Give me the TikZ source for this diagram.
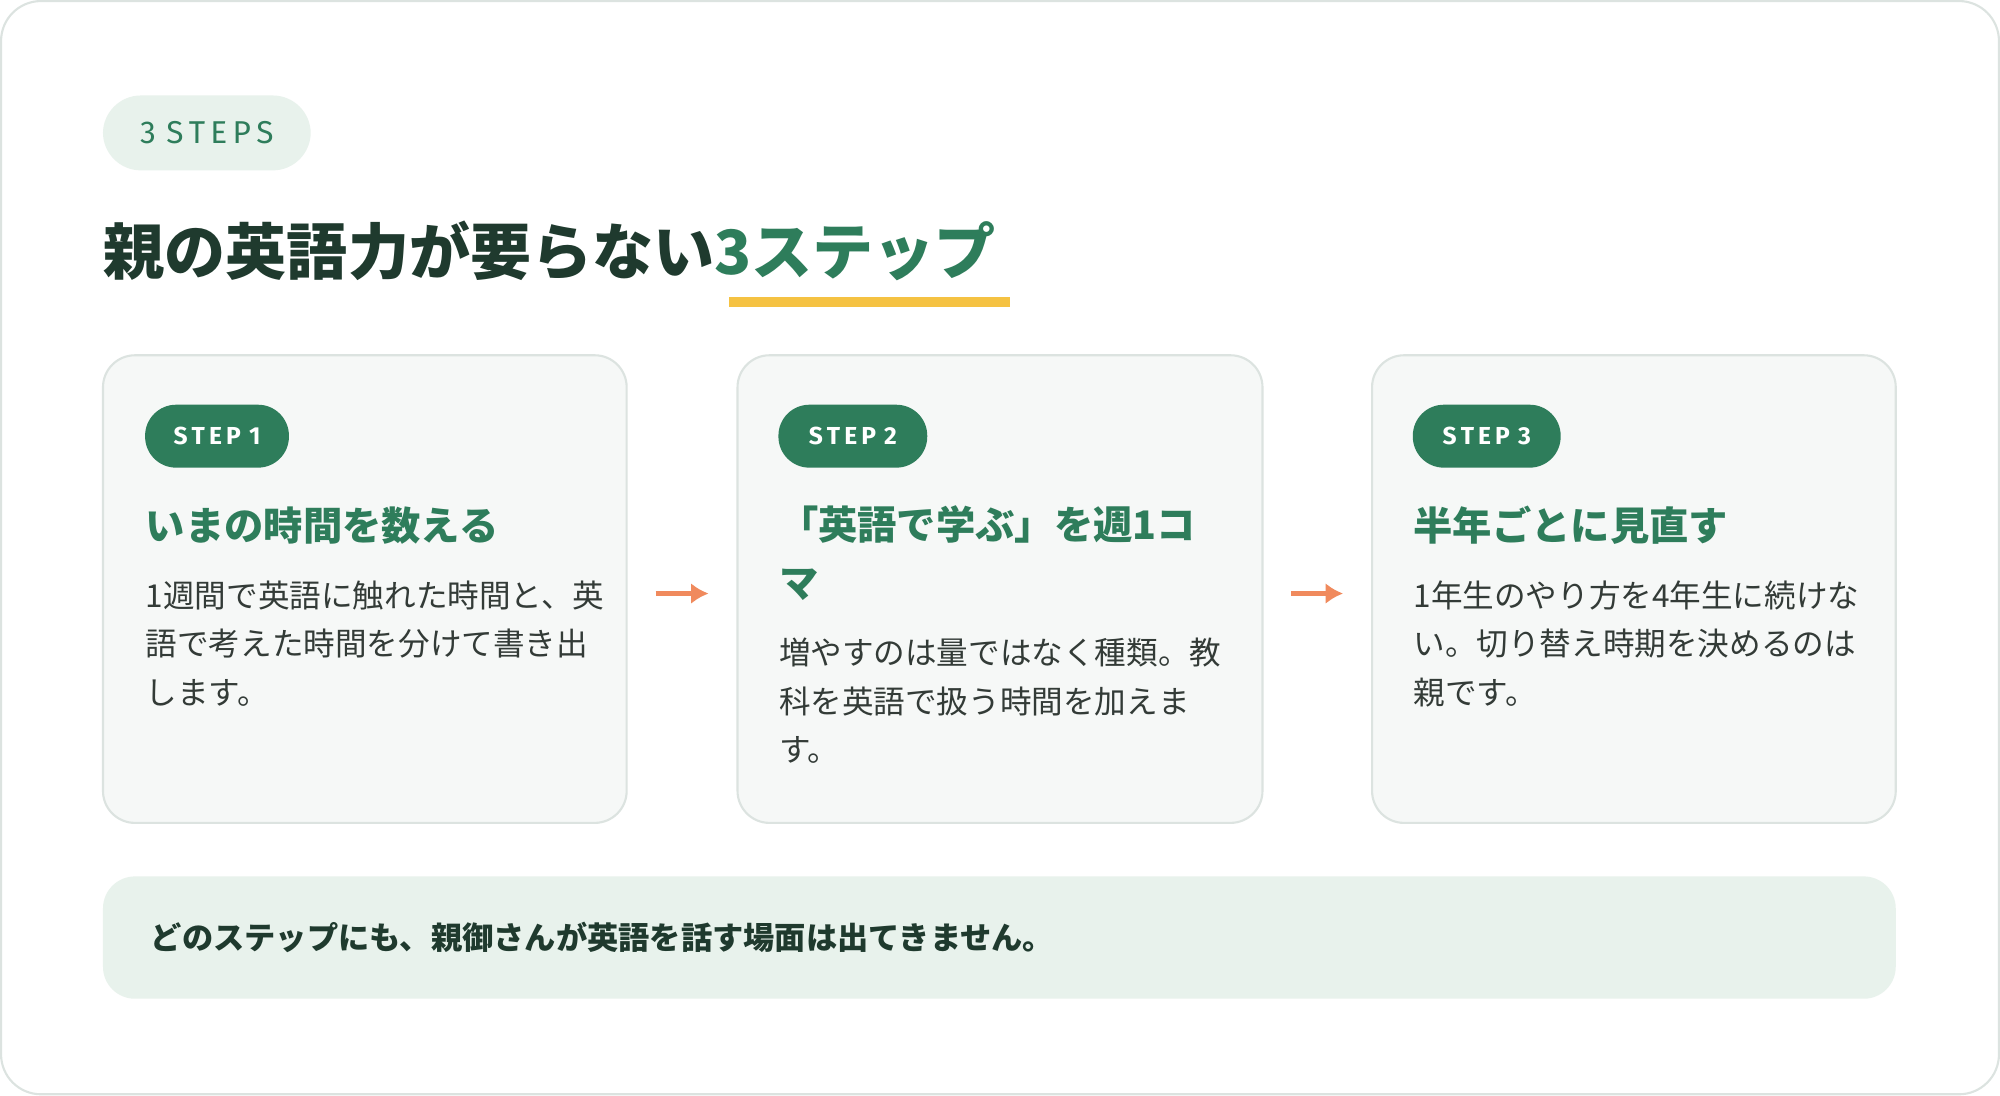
\documentclass[tikz,border=0pt]{standalone}
\usepackage{fontspec}
\setmainfont{Noto Sans CJK JP}
\setsansfont{Fira Sans}
\usetikzlibrary{positioning,calc,arrows.meta}
\definecolor{leaf}{HTML}{2E7D5B}
\definecolor{ink}{HTML}{1F3A2E}
\definecolor{body}{HTML}{333B37}
\definecolor{mint}{HTML}{E8F2EC}
\definecolor{paper}{HTML}{F6F8F7}
\definecolor{rim}{HTML}{DCE3E0}
\definecolor{sun}{HTML}{F5C242}
\definecolor{peach}{HTML}{F08A5D}
\tikzset{>=latex}
\tikzstyle{card}=[draw=rim,fill=paper,rounded corners=0.32cm,line width=0.6pt]
\tikzstyle{badge}=[fill=leaf,text=white,rounded corners=0.31cm,font=\sffamily\bfseries\fontsize{7}{8}\selectfont,inner sep=0pt,minimum height=0.63cm]
\tikzstyle{steptitle}=[anchor=base west,text=leaf,font=\bfseries\fontsize{11.2}{16.5}\selectfont,align=left,inner sep=0pt]
\tikzstyle{steptext}=[anchor=base west,text=body,font=\fontsize{9}{13.8}\selectfont,align=left,inner sep=0pt]
\tikzstyle{flow}=[-{Latex[length=5pt,width=6pt]},peach,line width=1.6pt,shorten <=0.29cm,shorten >=0.29cm]

\begin{document}
\begin{tikzpicture}[x=0.012755cm,y=-0.012755cm]

% Frame
\draw[rim,fill=white,rounded corners=0.4cm,line width=0.6pt] (0,0) rectangle (1568,858);

% Header
\node[fill=mint,text=leaf,rounded corners=0.38cm,minimum width=2.08cm,minimum height=0.75cm,
  font=\sffamily\fontsize{9}{10}\selectfont] (tag) at (161.5,103.5) {3\,\,S\,T\,E\,P\,S};
\fill[sun] (571,232) rectangle (792,240);
\node[anchor=base west,inner sep=0pt,text=ink,font=\bfseries\fontsize{17.4}{20}\selectfont] (title) at (80,215)
  {親の英語力が要らない\textcolor{leaf}{3ステップ}};

% Cards
\draw[card] (80,278) rectangle (491,645);
\draw[card] (578,278) rectangle (990,645);
\draw[card] (1076,278) rectangle (1487,645);
\coordinate (c1) at (491,465);
\coordinate (c2) at (578,465);
\coordinate (c3) at (990,465);
\coordinate (c4) at (1076,465);

% Step 1 (multi-line nodes sit on their last baseline)
\node[badge,minimum width=1.44cm] (b1) at (169.5,341.5) {S\,T\,E\,P\,\,1};
\node[steptitle] (t1) at (113,423) {いまの時間を数える};
\node[steptext] (x1) at (113,552) {1週間で英語に触れた時間と、英\\語で考えた時間を分けて書き出\\します。};

% Step 2
\node[badge,minimum width=1.49cm] (b2) at (668.5,341.5) {S\,T\,E\,P\,\,2};
\node[steptitle] (t2) at (610,468) {「英語で学ぶ」を週1コ\\マ};
\node[steptext] (x2) at (610,597) {増やすのは量ではなく種類。教\\科を英語で扱う時間を加えま\\す。};

% Step 3
\node[badge,minimum width=1.48cm] (b3) at (1166,341.5) {S\,T\,E\,P\,\,3};
\node[steptitle] (t3) at (1108,423) {半年ごとに見直す};
\node[steptext] (x3) at (1108,552) {1年生のやり方を4年生に続けな\\い。切り替え時期を決めるのは\\親です。};

% Arrows
\draw[flow] (c1) -- (c2);
\draw[flow] (c3) -- (c4);

% Footer
\draw[fill=mint,draw=none,rounded corners=0.32cm] (80,687) rectangle (1487,783);
\node[anchor=base west,inner sep=0pt,text=ink,font=\bfseries\fontsize{8.9}{11}\selectfont] (note) at (117,744)
  {どのステップにも、親御さんが英語を話す場面は出てきません。};

\end{tikzpicture}
\end{document}
